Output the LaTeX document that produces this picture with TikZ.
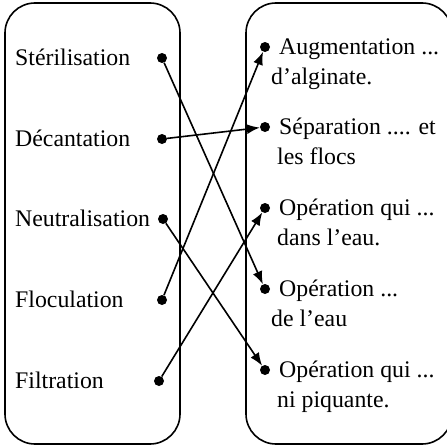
\documentclass[tikz,border=0pt]{standalone}
\usepackage{fontspec}
\setmainfont{Liberation Serif}
\usetikzlibrary{arrows.meta}

\begin{document}
\begin{tikzpicture}[x=1pt,y=-1pt,
  box/.style={line width=1.6pt,rounded corners=30pt},
  dot/.style={circle,fill,inner sep=0pt,minimum size=10pt},
  lbl/.style={anchor=base west,inner sep=0pt,align=left,font=\fontsize{23.8}{30}\selectfont},
  link/.style={line width=1.6pt,-{Latex[length=13pt,width=10pt]}}]
\useasboundingbox (0,0) rectangle (447,447);
\clip (0,0) rectangle (447,447);
\draw[box] (5,3) rectangle (180,444);
\draw[box] (246,3) rectangle (452,444);
% left column
\node[lbl] (steril) at (15,65) {St\'erilisation};
\node[lbl] (decant) at (15,146) {D\'ecantation};
\node[lbl] (neutra) at (15,226) {Neutralisation};
\node[lbl] (flocu) at (15,307) {Floculation};
\node[lbl] (filtra) at (15,388) {Filtration};
\node[dot] (s) at (162,58) {};
\node[dot] (d) at (162,139) {};
\node[dot] (n) at (163,219) {};
\node[dot] (fl) at (162,300) {};
\node[dot] (fi) at (159,381) {};
% right column (base = last line)
\node[dot] (r1) at (265,47) {};
\node[dot] (r2) at (265,127) {};
\node[dot] (r3) at (265,208) {};
\node[dot] (r4) at (265,289) {};
\node[dot] (r5) at (265,370) {};
\node[lbl] (augm) at (279,84) {Augmentation ...\\\kern-8pt d’alginate.};
\node[lbl] (separ) at (279,164) {S\'eparation .... et\\\kern-2pt les flocs};
\node[lbl] (opdans) at (279,245) {Op\'eration qui ...\\\kern-2pt dans l’eau.};
\node[lbl] (opeau) at (279,326) {Op\'eration ...\\\kern-8pt de l’eau};
\node[lbl] (oppiq) at (279,407) {Op\'eration qui ...\\\kern-2pt ni piquante.};
% links
\draw[link] (s) -- (r4);
\draw[link] (d) -- (r2);
\draw[link] (n) -- (r5);
\draw[link] (fl) -- (r1);
\draw[link] (fi) -- (r3);
\end{tikzpicture}
\end{document}
